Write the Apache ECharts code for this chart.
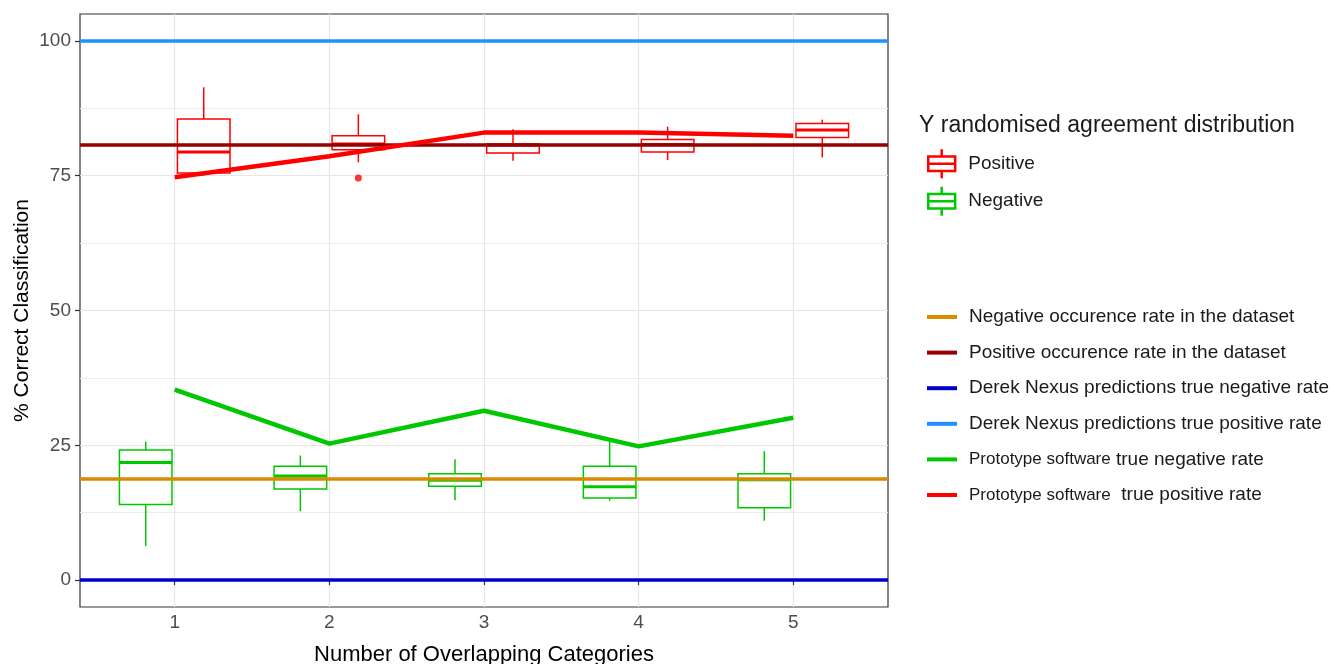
<!DOCTYPE html>
<html>
<head>
<meta charset="utf-8">
<script src="https://cdn.jsdelivr.net/npm/echarts@6/dist/echarts.min.js"></script>
<style>
  html, body { margin: 0; padding: 0; background: #ffffff; }
  #chart { width: 1333px; height: 664px; }
</style>
</head>
<body>
<div id="chart"></div>
<script>
// ---- data ----
const categories = [1, 2, 3, 4, 5];
const xTicks = [1, 2, 3, 4, 5];
const yTicks = [0, 25, 50, 75, 100];
const yMinorTicks = [12.5, 37.5, 62.5, 87.5];

// boxplot stats per category: [category, min, Q1, median, Q3, max]
const positiveBox = [
  [1, 75.0, 75.5, 79.4, 85.5, 91.4],
  [2, 77.5, 79.8, 80.9, 82.4, 86.4],
  [3, 77.8, 79.2, 80.7, 80.9, 83.6],
  [4, 77.9, 79.4, 80.8, 81.7, 84.1],
  [5, 78.4, 82.1, 83.5, 84.7, 85.4]
];
const negativeBox = [
  [1, 6.3, 14.0, 21.8, 24.1, 25.7],
  [2, 12.8, 16.9, 19.3, 21.1, 23.1],
  [3, 14.8, 17.4, 18.5, 19.7, 22.4],
  [4, 14.7, 15.2, 17.3, 21.1, 25.7],
  [5, 11.0, 13.4, 18.6, 19.7, 23.9]
];
const positiveOutliers = [[2, 74.6]];

const prototypeTN = [35.3, 25.3, 31.4, 24.8, 30.1];
const prototypeTP = [74.7, 78.6, 83.0, 83.0, 82.4];

const negativeOccurrence = 18.85;
const positiveOccurrence = 80.8;
const derekTN = 0;
const derekTP = 100;

// ---- layout / style constants ----
const DODGE = 0.1875;
const HALF_BOX = 0.17;
const FONT = 'Liberation Sans, Arial, Helvetica, sans-serif';
const C = {
  red: '#FF0000', green: '#00C800', orange: '#D98B00',
  darkred: '#960000', blue: '#0000CD', lightblue: '#1E90FF'
};

function boxRenderer(offset, color) {
  return function (params, api) {
    const x = api.value(0) + offset;
    const lo = api.coord([x - HALF_BOX, api.value(2)]);
    const hi = api.coord([x + HALF_BOX, api.value(4)]);
    const med = api.coord([x, api.value(3)]);
    const wMin = api.coord([x, api.value(1)]);
    const wMax = api.coord([x, api.value(5)]);
    return {
      type: 'group',
      children: [
        { type: 'line', shape: { x1: med[0], y1: wMax[1], x2: med[0], y2: hi[1] }, style: { stroke: color, lineWidth: 1.5 } },
        { type: 'line', shape: { x1: med[0], y1: lo[1], x2: med[0], y2: wMin[1] }, style: { stroke: color, lineWidth: 1.5 } },
        { type: 'rect', shape: { x: lo[0], y: hi[1], width: hi[0] - lo[0], height: lo[1] - hi[1] }, style: { fill: '#ffffff', stroke: color, lineWidth: 1.5 } },
        { type: 'line', shape: { x1: lo[0], y1: med[1], x2: hi[0], y2: med[1] }, style: { stroke: color, lineWidth: 3 } }
      ]
    };
  };
}

function hline(name, value, color) {
  return {
    name: name, type: 'line', data: [], z: 1,
    lineStyle: { color: color, width: 3.5 }, itemStyle: { color: color },
    markLine: {
      silent: true, symbol: ['none', 'none'], label: { show: false },
      lineStyle: { color: color, width: 3.5, type: 'solid' },
      emphasis: { disabled: true },
      data: [{ yAxis: value }]
    }
  };
}

function protoLine(name, values, color) {
  return {
    name: name, type: 'line', z: 5, symbol: 'none',
    data: categories.map((c, i) => [c, values[i]]),
    lineStyle: { color: color, width: 4.5 }, itemStyle: { color: color }
  };
}

const boxIcon = 'path://M14,0L14,7M1,7L27,7L27,21L1,21ZM1,14L27,14M14,21L14,28';

const chart = echarts.init(document.getElementById('chart'), null, { renderer: 'canvas' });
chart.setOption({
  animation: false,
  backgroundColor: '#ffffff',
  textStyle: { fontFamily: FONT },
  title: {
    text: 'Y randomised agreement distribution',
    left: 919, top: 114, padding: 0,
    textStyle: { fontFamily: FONT, fontSize: 23, fontWeight: 'normal', color: '#1a1a1a' }
  },
  grid: {
    left: 80, right: 445, top: 14, bottom: 57,
    containLabel: false, outerBoundsMode: 'none',
    show: true, backgroundColor: '#ffffff', borderColor: '#333333', borderWidth: 1.2
  },
  legend: [
    {
      orient: 'vertical', left: 927, top: 148, padding: 0,
      itemWidth: 29, itemHeight: 29, itemGap: 6,
      icon: boxIcon,
      data: [
        { name: 'Positive', itemStyle: { color: '#ffffff', borderColor: C.red, borderWidth: 2.5 } },
        { name: 'Negative', itemStyle: { color: '#ffffff', borderColor: C.green, borderWidth: 2.5 } }
      ],
      textStyle: { fontFamily: FONT, fontSize: 19, color: '#1a1a1a', padding: [0, 0, 0, 7] },
      selectedMode: false
    },
    {
      orient: 'vertical', left: 927, top: 306, padding: 0,
      itemWidth: 30, itemHeight: 4, itemGap: 13.6,
      icon: 'rect',
      data: [
        'Negative occurence rate in the dataset',
        'Positive occurence rate in the dataset',
        'Derek Nexus predictions true negative rate',
        'Derek Nexus predictions true positive rate',
        'Prototype software true negative rate',
        'Prototype software  true positive rate'
      ],
      formatter: function (name) {
        if (name.indexOf('Prototype software') === 0) {
          return '{p|Prototype software}' + name.slice('Prototype software'.length);
        }
        return name;
      },
      textStyle: {
        fontFamily: FONT, fontSize: 19, lineHeight: 22, color: '#1a1a1a', padding: [0, 0, 0, 7],
        rich: { p: { fontFamily: FONT, fontSize: 17, lineHeight: 22, color: '#1a1a1a' } }
      },
      selectedMode: false
    }
  ],
  xAxis: {
    type: 'value', min: 0.3875, max: 5.6125,
    name: 'Number of Overlapping Categories', nameLocation: 'middle', nameGap: 37,
    nameTextStyle: { fontFamily: FONT, fontSize: 22, color: '#000000' },
    axisLine: { show: false },
    axisTick: { show: true, length: 5, customValues: xTicks, lineStyle: { color: '#333333', width: 1.2 } },
    axisLabel: { customValues: xTicks, fontFamily: FONT, fontSize: 19, color: '#4d4d4d', margin: 6 },
    splitLine: { show: true, lineStyle: { color: '#e6e6e6', width: 1.2 } }
  },
  yAxis: [
    {
      type: 'value', min: -5, max: 105,
      name: '% Correct Classification', nameLocation: 'middle', nameGap: 47, nameRotate: 90,
      nameMoveOverlap: false,
      nameTextStyle: { fontFamily: FONT, fontSize: 21, color: '#000000' },
      axisLine: { show: false },
      axisTick: { show: true, length: 5, customValues: yTicks, lineStyle: { color: '#333333', width: 1.2 } },
      axisLabel: { customValues: yTicks, fontFamily: FONT, fontSize: 19, color: '#4d4d4d', margin: 9 },
      splitLine: { show: true, lineStyle: { color: '#e6e6e6', width: 1.2 } }
    },
    {
      type: 'value', min: -5, max: 105, position: 'right',
      axisLine: { show: false },
      axisTick: { show: false, customValues: yMinorTicks },
      axisLabel: { show: false, customValues: yMinorTicks },
      splitLine: { show: true, lineStyle: { color: '#ececec', width: 1 } }
    }
  ],
  series: [
    hline('Negative occurence rate in the dataset', negativeOccurrence, C.orange),
    hline('Positive occurence rate in the dataset', positiveOccurrence, C.darkred),
    hline('Derek Nexus predictions true negative rate', derekTN, C.blue),
    hline('Derek Nexus predictions true positive rate', derekTP, C.lightblue),
    {
      name: 'Positive', type: 'custom', z: 3,
      renderItem: boxRenderer(DODGE, C.red),
      encode: { x: 0, y: [1, 2, 3, 4, 5] },
      data: positiveBox
    },
    {
      name: 'Negative', type: 'custom', z: 3,
      renderItem: boxRenderer(-DODGE, C.green),
      encode: { x: 0, y: [1, 2, 3, 4, 5] },
      data: negativeBox
    },
    {
      name: 'Positive outliers', type: 'scatter', z: 4, symbol: 'circle', symbolSize: 7,
      itemStyle: { color: C.red },
      data: positiveOutliers.map(p => [p[0] + DODGE, p[1]])
    },
    protoLine('Prototype software true negative rate', prototypeTN, C.green),
    protoLine('Prototype software  true positive rate', prototypeTP, C.red)
  ]
});
</script>
</body>
</html>
